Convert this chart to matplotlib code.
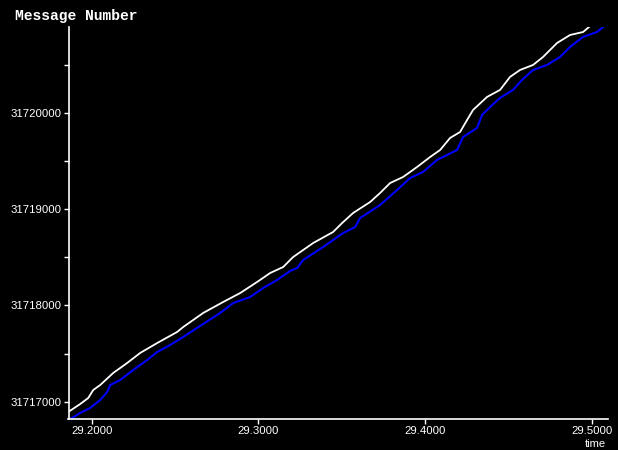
import matplotlib
matplotlib.use("Agg")
import matplotlib.pyplot as plt
from matplotlib.ticker import FixedLocator, FuncFormatter

# white series (time, message number)
white_t = [29.1858, 29.1930, 29.1978, 29.2008, 29.2050, 29.2128, 29.2212, 29.2290,
           29.2392, 29.2512, 29.2548, 29.2668, 29.2788, 29.2890, 29.2992, 29.3070,
           29.3148, 29.3208, 29.3328, 29.3448, 29.3502, 29.3568, 29.3670, 29.3730,
           29.3790, 29.3868, 29.3952, 29.4030, 29.4090, 29.4150, 29.4210, 29.4252,
           29.4288, 29.4372, 29.4450, 29.4510, 29.4570, 29.4648, 29.4708, 29.4792,
           29.4870, 29.4948, 29.4984]
white_v = [31716893, 31716976, 31717038, 31717121, 31717173, 31717298, 31717402, 31717506,
           31717609, 31717724, 31717775, 31717921, 31718035, 31718128, 31718243, 31718336,
           31718398, 31718502, 31718647, 31718762, 31718855, 31718959, 31719073, 31719167,
           31719270, 31719333, 31719437, 31719540, 31719613, 31719738, 31719800, 31719925,
           31720029, 31720164, 31720237, 31720372, 31720444, 31720496, 31720579, 31720724,
           31720807, 31720838, 31720890]

# blue series
blue_t = [29.1870, 29.1930, 29.1990, 29.2050, 29.2092, 29.2110, 29.2170, 29.2248,
          29.2332, 29.2392, 29.2470, 29.2548, 29.2668, 29.2770, 29.2848, 29.2950,
          29.3028, 29.3112, 29.3190, 29.3232, 29.3268, 29.3388, 29.3508, 29.3580,
          29.3610, 29.3730, 29.3832, 29.3910, 29.3988, 29.4072, 29.4192, 29.4228,
          29.4312, 29.4342, 29.4390, 29.4450, 29.4528, 29.4582, 29.4648, 29.4732,
          29.4810, 29.4870, 29.4948, 29.5032, 29.5068]
blue_v = [31716820, 31716883, 31716935, 31717018, 31717101, 31717173, 31717225, 31717329,
          31717433, 31717516, 31717589, 31717672, 31717807, 31717921, 31718024, 31718087,
          31718180, 31718264, 31718357, 31718388, 31718471, 31718606, 31718751, 31718813,
          31718907, 31719042, 31719198, 31719322, 31719385, 31719510, 31719613, 31719748,
          31719842, 31719977, 31720060, 31720154, 31720237, 31720341, 31720444, 31720496,
          31720579, 31720683, 31720787, 31720838, 31720890]

x_ticks = [29.2, 29.3, 29.4, 29.5]
y_ticks = [31717000, 31718000, 31719000, 31720000]
y_minor = [31717500, 31718500, 31719500, 31720500]

W, H = 618, 450
fig = plt.figure(figsize=(W / 100, H / 100), dpi=100, facecolor="black")
left, right, bottom, top = 68.5, 608.3, 419.3, 27.0
ax = fig.add_axes([left / W, (H - bottom) / H, (right - left) / W, (bottom - top) / H])
ax.set_facecolor("black")

ax.plot(white_t, white_v, color="white", lw=1.3, solid_joinstyle="miter")
ax.plot(blue_t, blue_v, color="#0000ff", lw=1.5, solid_joinstyle="miter")

ax.set_xlim(29.18596, 29.50996)
ax.set_ylim(31716817, 31720890)

for s in ["top", "right"]:
    ax.spines[s].set_visible(False)
for s in ["left", "bottom"]:
    ax.spines[s].set_color("white")
    ax.spines[s].set_linewidth(1.2)

ax.xaxis.set_major_locator(FixedLocator(x_ticks))
ax.xaxis.set_major_formatter(FuncFormatter(lambda v, p: f"{v:.4f}"))
ax.yaxis.set_major_locator(FixedLocator(y_ticks))
ax.yaxis.set_minor_locator(FixedLocator(y_minor))
ax.yaxis.set_major_formatter(FuncFormatter(lambda v, p: f"{int(round(v))}"))
ax.tick_params(axis="both", which="both", colors="white", length=3.5, width=1, direction="out")
ax.tick_params(axis="y", pad=1.5)
ax.tick_params(axis="x", pad=1.5)
for lab in ax.get_xticklabels() + ax.get_yticklabels():
    lab.set_fontfamily("Liberation Sans")
    lab.set_fontsize(8.2)

fig.text(15 / W, 1 - 16 / H, "Message Number", color="white", family="Liberation Mono",
         fontweight="bold", fontsize=10.5, ha="left", va="center")
fig.text(595 / W, 1 - 449 / H, "time", color="white", family="Liberation Sans",
         fontsize=8.0, ha="center", va="bottom")

fig.savefig("out.png", dpi=100, facecolor="black")
